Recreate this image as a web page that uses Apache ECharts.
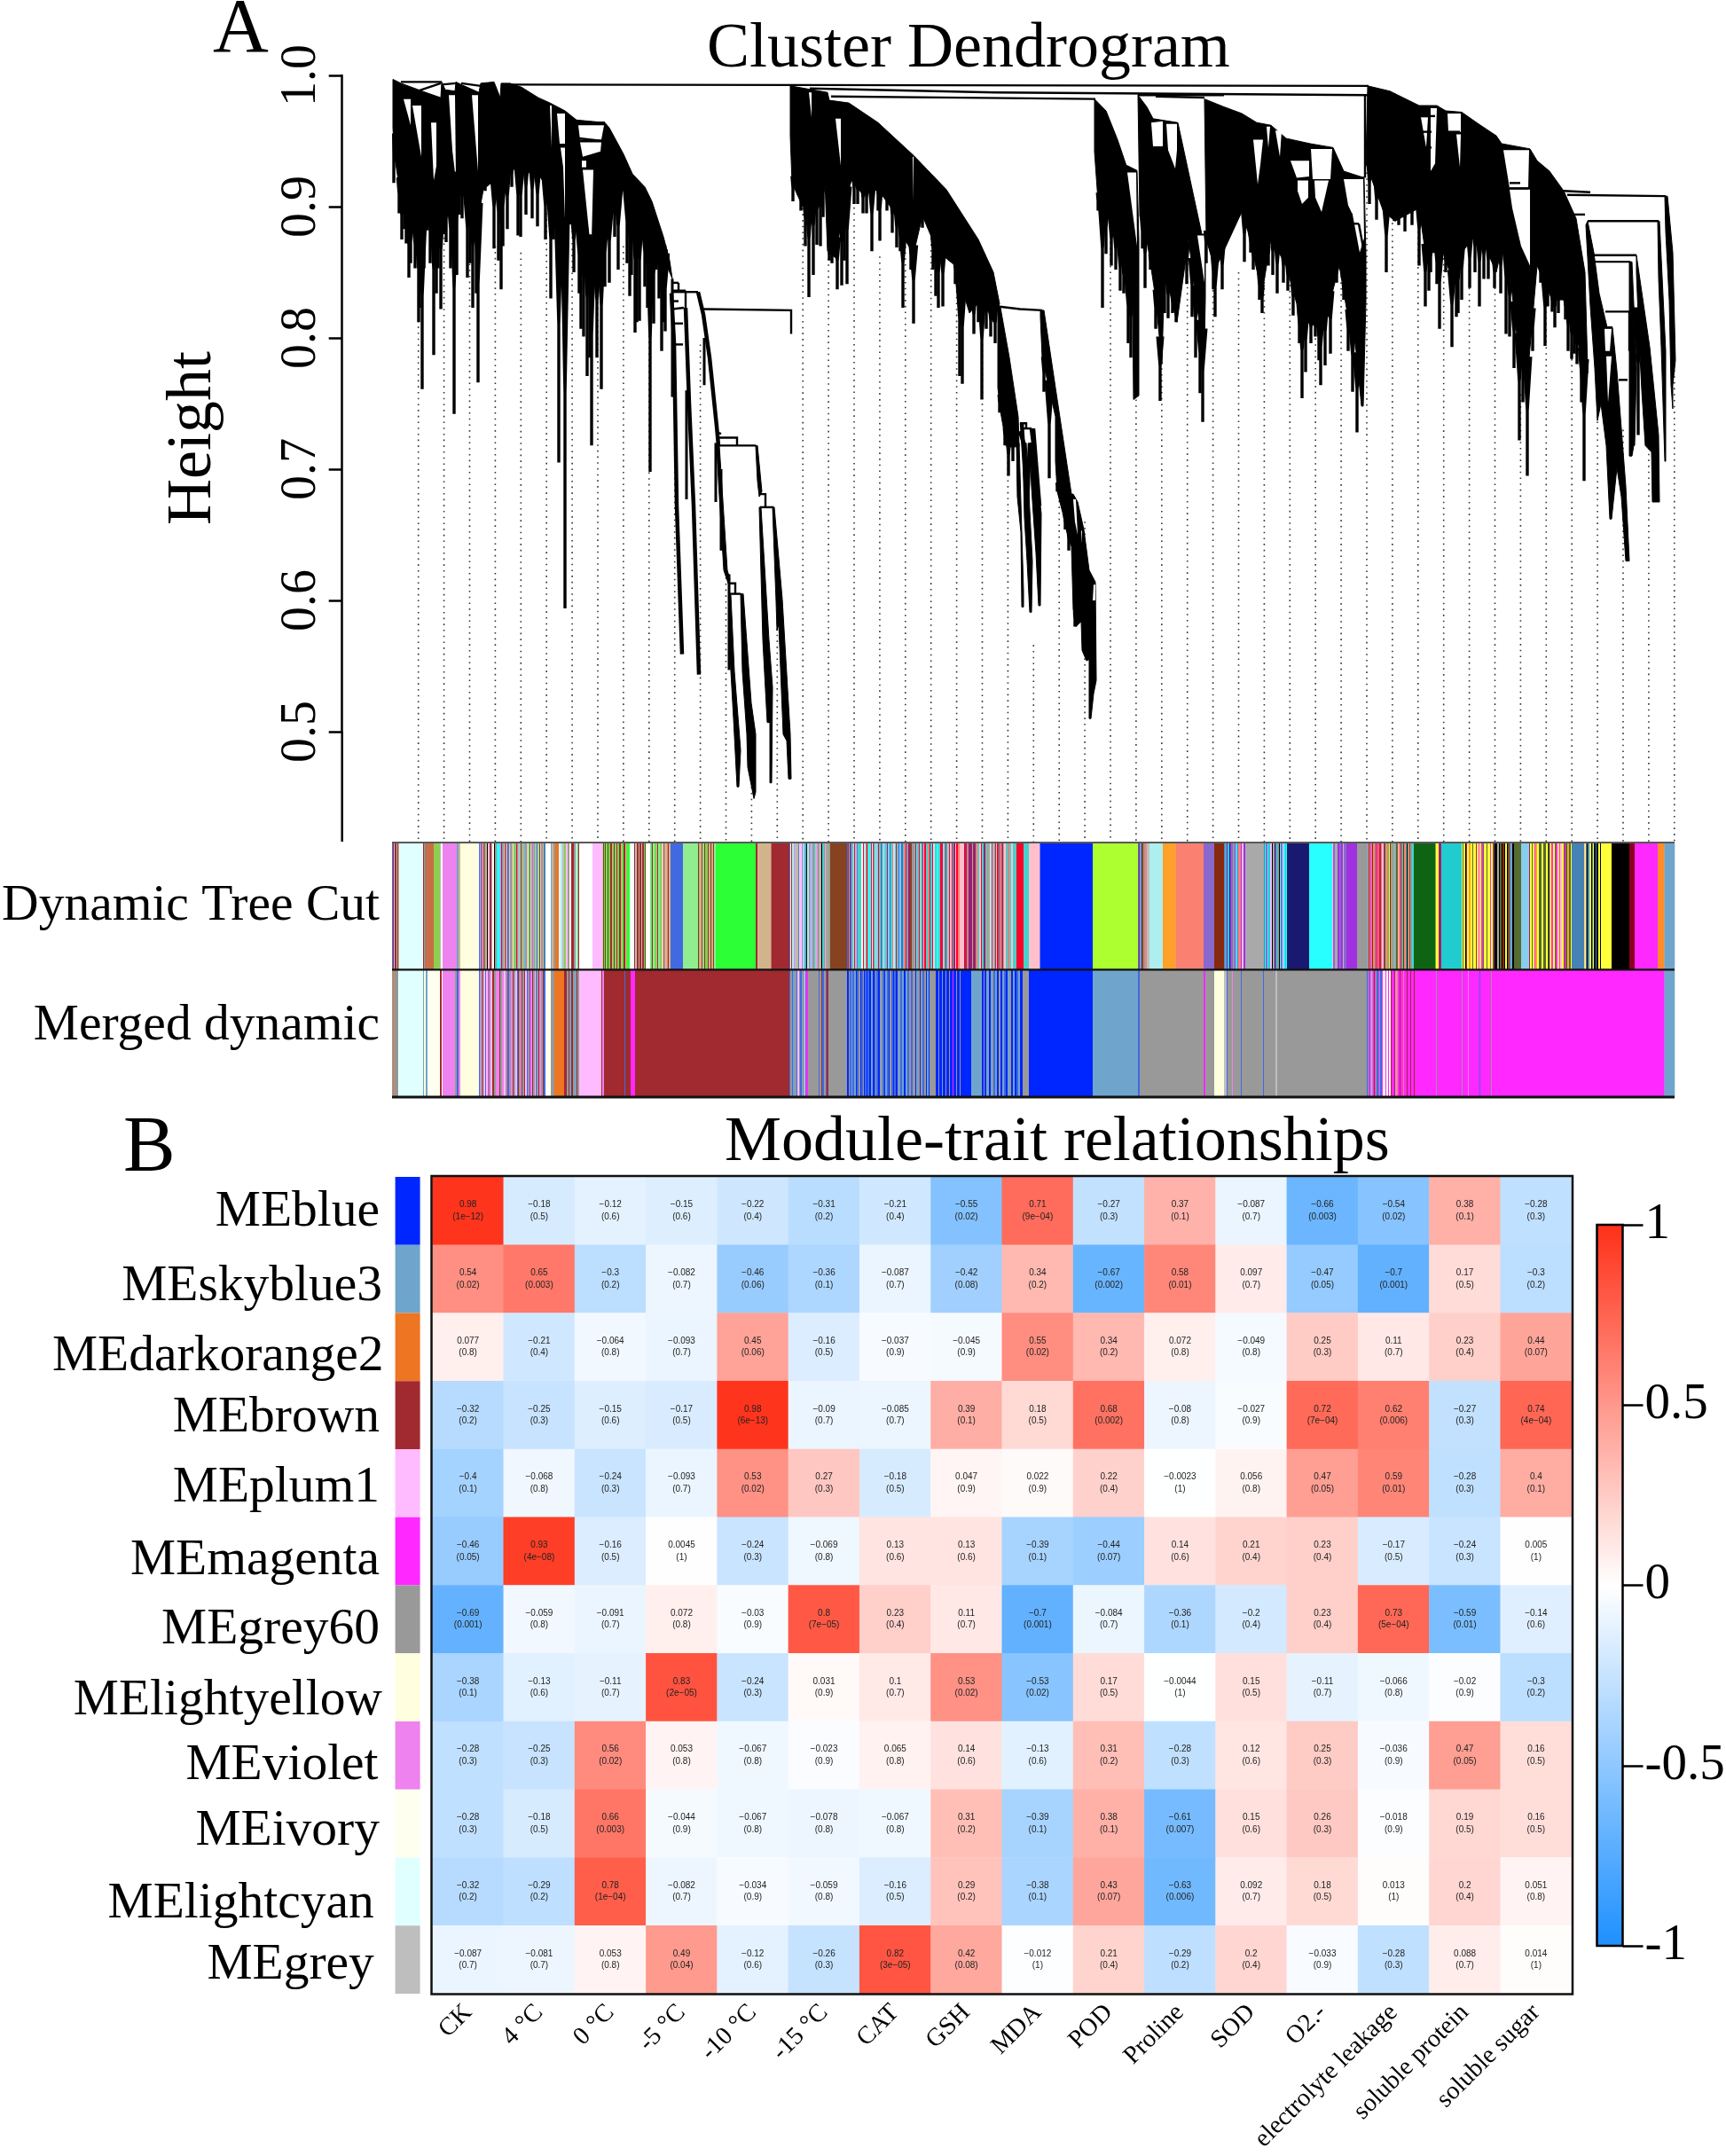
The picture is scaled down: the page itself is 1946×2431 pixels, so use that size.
<!DOCTYPE html>
<html><head><meta charset="utf-8">
<style>html,body{margin:0;padding:0;background:#fff}#c{width:1946px;height:2431px}</style>
<script src="https://cdn.jsdelivr.net/npm/echarts@6/dist/echarts.min.js"></script>
</head><body><div id="c"></div>
<script>
// ---------- dendrogram: [leaf rank, height] outlines
const massA=[[1,.997],[10,.994],[38,.987],[55,.983],[56,.995],[60,.989],[71,.988],[72,.995],[78,.993],[98,.987],[100,.994],[115,.995],[122,.983],[123,.994],[133,.994],[146,.991],[165,.983],[178,.979],[195,.973],[208,.966],[240,.964],[245,.960],[261,.940],[271,.925],[285,.915],[293,.904],[306,.877],[313,.859],[316,.845],[316,.845],[313,.850],[298,.873],[288,.875],[273,.900],[261,.913],[245,.893],[238,.875],[231,.857],[218,.875],[205,.888],[191,.884],[181,.904],[168,.922],[151,.927],[138,.929],[128,.920],[115,.920],[103,.913],[98,.895],[78,.915],[73,.920],[68,.902],[58,.897],[38,.900],[33,.879],[21,.880],[11,.902],[3,.938],[1,.960]];
const massB=[[449,.992],[491,.987],[493,.981],[515,.979],[548,.964],[588,.939],[625,.913],[661,.875],[678,.850],[685,.826],[683,.823],[678,.812],[665,.830],[651,.819],[635,.855],[615,.866],[598,.893],[588,.864],[578,.875],[565,.897],[548,.913],[531,.909],[518,.920],[508,.897],[500,.861],[491,.866],[488,.920],[475,.909],[463,.900],[451,.918],[449,.954]];
const massB2=[[683,.823],[686,.823],[696,.785],[706,.740],[707,.717],[693,.717],[686,.744],[683,.762]];
const massB3=[[731,.821],[735,.821],[748,.762],[766,.681],[768,.681],[773,.675],[780,.654],[786,.623],[793,.614],[794,.539],[791,.529],[788,.510],[786,.510],[786,.555],[783,.554],[778,.562],[777,.584],[771,.580],[768,.593],[766,.641],[760,.654],[756,.667],[750,.683],[748,.706],[748,.740],[733,.785],[731,.816]];
const massC=[[792,.982],[805,.973],[818,.951],[828,.931],[840,.927],[842,.875],[842,.756],[836,.753],[835,.830],[820,.864],[810,.888],[796,.904],[792,.942]];
const massD=[[841,.985],[851,.976],[858,.967],[886,.964],[900,.920],[913,.879],[917,.879],[917,.830],[916,.796],[911,.807],[898,.875],[885,.812],[871,.852],[868,.780],[861,.830],[851,.875],[843,.893]];
const massE=[[916,.982],[938,.976],[958,.971],[975,.964],[991,.962],[1008,.952],[1035,.948],[1061,.945],[1073,.927],[1096,.922],[1098,.863],[1098,.829],[1095,.748],[1093,.748],[1085,.803],[1081,.803],[1068,.855],[1058,.829],[1045,.808],[1025,.814],[1008,.855],[991,.876],[981,.834],[965,.881],[958,.896],[928,.852],[918,.875]];
const massF=[[1100,.992],[1125,.988],[1158,.977],[1178,.977],[1188,.973],[1206,.972],[1225,.963],[1245,.954],[1251,.948],[1283,.944],[1291,.935],[1305,.927],[1321,.912],[1335,.891],[1345,.850],[1348,.777],[1344,.777],[1335,.803],[1321,.829],[1308,.829],[1291,.855],[1281,.777],[1268,.803],[1255,.881],[1245,.850],[1225,.881],[1206,.865],[1195,.845],[1185,.865],[1165,.865],[1158,.899],[1131,.889],[1118,.896],[1105,.920],[1098,.933]];
const massG=[[1348,.889],[1355,.865],[1361,.834],[1370,.808],[1376,.808],[1381,.775],[1391,.687],[1395,.630],[1391,.630],[1386,.679],[1381,.701],[1375,.662],[1373,.662],[1369,.718],[1363,.750],[1359,.737],[1356,.777],[1351,.824],[1346,.886]];
const massH=[[1403,.863],[1418,.793],[1428,.726],[1429,.675],[1427,.675],[1421,.675],[1420,.713],[1413,.718],[1409,.76],[1406,.80],[1403,.85]];
const massH2=[[1395,.858],[1398,.858],[1403,.777],[1401,.718],[1400,.718],[1398,.710],[1395,.710],[1395,.790]];
const massI=[[1435,.908],[1438,.908],[1444,.865],[1447,.783],[1444,.764],[1444,.746],[1442,.764],[1440,.829],[1436,.881]];
const massI2=[[1427,.889],[1429,.889],[1436,.790],[1436,.706],[1435,.706],[1431,.793],[1428,.845]];
const bandLTop=[[366,.718],[369,.718],[378,.623],[381,.616],[379,.613],[374,.623],[368,.691]];
const bandLL=[[380,.604],[382,.604],[386,.546],[393,.486],[391,.458],[389,.458],[385,.510],[380,.570]];
const bandLR=[[393,.605],[396,.605],[405,.522],[410,.498],[410,.454],[408,.449],[401,.473],[400,.498],[395,.546]];
const bandRTop=[[410,.718],[412,.718],[417,.683],[414,.679],[412,.691]];
const bandRL=[[414,.671],[416,.671],[425,.570],[429,.534],[428,.461],[426,.461],[426,.507],[423,.507],[418,.570]];
const bandRR=[[429,.671],[431,.671],[440,.601],[449,.498],[450,.464],[447,.464],[445,.493],[441,.498],[436,.582],[434,.577],[433,.599]];
const tailA=[[704,.72],[707,.72],[712,.607],[712,.595],[710,.595],[709,.652],[705,.679]];
const tailB=[[711,.72],[715,.72],[722,.630],[721,.591],[719,.591],[716,.630],[713,.663]];
const tailC=[[719,.72],[723,.72],[732,.666],[731,.596],[729,.596],[726,.636],[721,.686]];
const treeMasses=[massA,massB,massB2,massB3,massC,massD,massE,massF,massG,massH,massH2,massI,massI2,bandLTop,bandLL,bandLR,bandRTop,bandRL,bandRR,tailA,tailB,tailC];
// white openings between branches
const treeGaps=[
[[13,.982],[21,.982],[21,.962]],[[23,.977],[33,.977],[33,.938]],[[44,.964],[50,.964],[50,.931],[47,.920]],[[64,.985],[71,.985],[72,.920],[68,.943]],[[90,.985],[97,.985],[97,.927]],
[[178,.977],[180,.977],[180,.945]],[[186,.971],[195,.971],[195,.948],[189,.948]],[[190,.945],[195,.945],[195,.890],[193,.930]],
[[210,.962],[239,.962],[236,.951],[212,.951]],[[212,.949],[236,.949],[235,.942],[215,.938]],[[214,.935],[219,.935],[219,.930],[214,.930]],[[215,.928],[227,.928],[225,.875],[223,.875]],
[[470,.987],[473,.987],[473,.968]],[[500,.967],[506,.967],[506,.931]],[[587,.938],[588,.938],[588,.904]],
[[829,.926],[839,.926],[840,.870]],[[856,.964],[869,.965],[869,.946],[858,.946]],[[873,.963],[885,.963],[885,.943],[883,.929],[875,.943]],[[908,.878],[916,.878],[916,.842]],
[[971,.951],[982,.951],[979,.932],[976,.917]],[[986,.961],[990,.961],[988,.945]],[[996,.958],[1003,.958],[1001,.938]],[[1013,.935],[1034,.935],[1034,.923],[1020,.922]],[[1021,.920],[1033,.920],[1033,.907],[1026,.902],[1021,.912]],[[1036,.944],[1060,.944],[1058,.921],[1038,.921]],[[1040,.920],[1056,.920],[1048,.896],[1041,.907]],[[1073,.921],[1095,.921],[1096,.876],[1091,.865],[1083,.894],[1078,.901]],
[[1171,.975],[1178,.975],[1176,.933],[1171,.927]],[[1160,.968],[1168,.968],[1166,.945]],[[1190,.971],[1205,.971],[1205,.957],[1191,.957]],[[1200,.955],[1205,.955],[1204,.930]],[[1253,.943],[1282,.943],[1281,.914],[1260,.914]],[[1260,.913],[1283,.913],[1283,.855],[1273,.870],[1263,.899]],
[[1367,.807],[1375,.807],[1373,.790],[1368,.790]],[[1369,.786],[1375,.786],[1371,.751]],
[[768,.677],[771,.677],[773,.650],[770,.660]],[[777,.653],[778,.653],[778,.643]],[[791,.612],[793,.612],[793,.600],[790,.600]]];
// leaf tips: [rank, lowest height]
const treeTips=[[2,.918],[8,.895],[14,.883],[19,.846],[21,.857],[30,.812],[34,.761],[40,.882],[47,.787],[55,.822],[59,.879],[70,.742],[76,.894],[79,.891],[85,.846],[91,.823],[97,.766],[105,.912],[115,.868],[120,.859],[123,.837],[130,.883],[135,.915],[142,.878],[145,.877],[151,.894],[158,.891],[164,.885],[173,.875],[179,.830],[188,.705],[195,.594],[205,.850],[216,.801],[220,.771],[225,.718],[236,.761],[240,.839],[245,.842],[251,.877],[265,.857],[268,.832],[274,.804],[279,.813],[291,.698],[295,.811],[304,.790],[308,.805],
[452,.904],[461,.897],[470,.831],[479,.871],[486,.892],[493,.859],[502,.837],[507,.840],[513,.841],[521,.902],[535,.895],[541,.866],[550,.874],[564,.880],[569,.869],[576,.823],[588,.811],[593,.887],[605,.884],[613,.832],[616,.823],[621,.824],[630,.875],[640,.771],[643,.765],[656,.803],[665,.753],[675,.801],[680,.796],[685,.743],[691,.718],[695,.695],[700,.706],
[735,.759],[741,.693],[751,.685],[750,.683],[759,.654],[763,.638],[770,.580],
[796,.897],[801,.823],[811,.855],[821,.836],[828,.864],[846,.868],[849,.838],[856,.868],[866,.752],[875,.815],[880,.819],[884,.812],[891,.852],[902,.816],[911,.758],[914,.736],
[918,.857],[926,.837],[928,.816],[936,.837],[961,.858],[971,.852],[981,.819],[993,.848],[998,.834],[1010,.836],[1016,.817],[1026,.754],[1030,.774],[1041,.801],[1047,.764],[1052,.779],[1058,.788],[1065,.842],[1083,.759],[1088,.728],
[1102,.902],[1110,.890],[1121,.850],[1130,.889],[1135,.886],[1142,.881],[1150,.886],[1165,.824],[1169,.836],[1178,.841],[1181,.807],[1195,.793],[1202,.819],[1215,.838],[1226,.824],[1231,.845],[1243,.838],[1256,.803],[1260,.801],[1271,.722],[1280,.695],[1300,.794],[1308,.820],[1315,.819],[1323,.814],[1330,.784],[1336,.780],[1344,.691],[1347,.773],
[1368,.741],[1405,.726]];
const treeTipsDense=[[11,.875],[16,.872],[26,.853],[31,.823],[36,.853],[43,.857],[50,.834],[52,.853],[61,.873],[66,.853],[73,.848],[88,.857],[95,.834],[125,.870],[182,.875],[195,.796],[211,.834],[213,.807],[223,.785],[231,.785],[255,.852],[270,.848],[276,.812],[285,.839],[288,.823],[298,.852],[301,.83],[306,.812],
[458,.909],[466,.87],[475,.848],[483,.87],[496,.857],[510,.859],[525,.902],[531,.895],[548,.897],[558,.897],[573,.866],[585,.852],[598,.884],[610,.852],[625,.864],[635,.841],[648,.83],[661,.812],[670,.807],
[805,.864],[816,.852],[825,.834],[830,.796],[833,.785],[855,.852],[861,.807],[871,.819],[886,.852],[896,.841],[906,.785],
[968,.865],[978,.829],[988,.855],[1005,.842],[1015,.842],[1023,.796],[1036,.796],[1045,.783],[1055,.816],[1073,.829],[1078,.79],[1091,.777],
[1158,.855],[1171,.85],[1188,.85],[1200,.816],[1206,.829],[1221,.85],[1236,.845],[1250,.834],[1265,.777],[1275,.751],[1286,.79],[1295,.842],[1303,.824],[1311,.808],[1320,.829],[1326,.79],[1333,.788],[1341,.751]];
const treeTipsFree=[[316,.845,.755],[352,.80,.764],[332,.76,.677],[365,.72,.675],[371,.70,.638],[380,.62,.547]];
// thick trunks
const treeTrunks=[[[315,.834],[318,.796],[321,.672],[327,.559]],[[331,.823],[335,.75],[340,.672],[346,.5435]],[[345,.835],[351,.818],[358,.785],[366,.733],[368,.718]],[[708,.729],[712,.72]],[[721,.731],[723,.72]],[[710,.735],[716,.672],[719,.72]],[[723,.731],[730,.672]]];
// connecting brackets
const treeBrackets=[[[133,.993],[1101,.992]],[[471,.990],[680,.987],[1100,.985]],[[495,.984],[641,.983],[793,.982]],[[841,.985],[938,.985]],[[861,.984],[916,.983]],[[1097,.985],[1097,.922]],
[[20,.986],[55,.994]],[[10,.995],[56,.995]],[[56,.993],[72,.994]],[[78,.994],[100,.992]],[[208,.964],[240,.964]],[[211,.952],[237,.950]],
[[316,.842],[323,.842]],[[316,.836],[331,.836]],[[316,.835],[345,.835]],[[316,.828],[323,.828]],[[316,.822],[329,.823]],[[318,.811],[328,.811]],[[319,.795],[328,.795]],[[323,.842],[323,.836]],[[331,.836],[331,.823]],
[[351,.822],[450,.821],[450,.803]],[[367,.728],[371,.727]],[[367,.724],[389,.724],[389,.718]],[[367,.718],[410,.718]],
[[380,.613],[387,.613],[387,.605]],[[380,.605],[393,.605]],[[415,.681],[421,.681],[421,.671]],[[415,.671],[430,.671]],
[[683,.824],[708,.822],[733,.821]],[[708,.735],[715,.735],[715,.731]],[[710,.731],[721,.731]],
[[828,.931],[840,.927]],[[1073,.922],[1096,.922]],[[1078,.894],[1083,.894]],[[1079,.887],[1090,.887]],[[1090,.887],[1096,.865]],
[[1160,.969],[1176,.969]],[[1162,.957],[1172,.957]],[[1162,.945],[1172,.945]],[[1191,.957],[1204,.957]],[[1193,.947],[1200,.947]],
[[1321,.912],[1351,.911]],[[1325,.909],[1436,.908]],[[1333,.894],[1345,.894]],[[1348,.889],[1428,.889]],[[1355,.863],[1403,.863]],[[1356,.858],[1396,.858]],[[1368,.820],[1395,.820],[1395,.790]],[[1366,.808],[1376,.808]],[[1383,.768],[1393,.768]],[[1260,.914],[1281,.914]],[[1260,.918],[1272,.918]]];
const guideRanks=[29.7,58.6,87.5,116.4,145.3,174.2,203.1,232,260.9,289.8,318.7,347.6,376.5,405.4,434.3,463.2,492.1,521,549.9,578.8,607.7,636.6,665.5,694.4,723.3,752.2,781.1,810,838.9,867.8,896.7,925.6,954.5,983.4,1012.3,1041.2,1070.1,1099,1127.9,1156.8,1185.7,1214.6,1243.5,1272.4,1301.3,1330.2,1359.1,1388,1416.9,1445.8];
const guideTops=[.881,.881,.870,.870,.865,.895,.895,.832,.870,.838,.802,.795,.631,.476,.592,.917,.865,.904,.862,.915,.894,.872,.845,.755,.566,.685,.66,.873,.83,.795,.893,.85,.85,.865,.854,.854,.865,.926,.951,.940,.897,.915,.870,.757,.888,.802,.786,.730,.757,.798];
const guideBottom=.4162;

// ---------- module colour strips: [end rank, colour key]
const palette={lc:'#E0FFFF',ly:'#FFFFE0',iv:'#FFFFF0',vi:'#EE82EE',pl:'#FFBBFF',wh:'#FFFFFF',br:'#A02A2F',bl:'#0026FF',rb:'#4169E1',ma:'#FF28FF',gy:'#999999',lg:'#BEBEBE',sk:'#6FA5CC',or:'#EE7521',si:'#C86E45',ol:'#8FCF50',cy:'#28FFFF',tq:'#48D1CC',re:'#FF0028',pk:'#FFC0CB',gn:'#2DFF37',lt:'#90EE90',ta:'#D2B48C',sb:'#87421F',gr:'#ADFF2F',pt:'#AFEEEE',oa:'#FFA028',sa:'#FA8072',mp:'#8968CD',b4:'#85290F',dg:'#A9A9A9',mb:'#191970',pu:'#A030E0',dk:'#0F6414',dt:'#20CCD0',ye:'#FFFF3C',k:'#000000',do:'#556B2F',sy:'#87CEEB',st:'#4682B4',dr:'#8B0020',ao:'#FF8C28',mr:'#9B1F70'};
const treeCut=[[1,'rb'],[2,'br'],[3,'lg'],[5,'br'],[6,'lg'],[7,'br'],[8,'ta'],[35,'lc'],[36,'br'],[37,'sk'],[40,'si'],[47,'si'],[54,'ol'],[55,'lg'],[57,'wh'],[73,'vi'],[75,'sk'],[77,'ta'],[98,'ly'],[99,'rb'],[100,'pl'],[101,'mb'],[102,'ly'],[103,'br'],[104,'vi'],[105,'do'],[107,'ta'],[108,'k'],[110,'pl'],[112,'sb'],[113,'vi'],[115,'ly'],[116,'k'],[118,'gy'],[122,'cy'],[123,'vi'],[124,'br'],[126,'gy'],[127,'pl'],[128,'br'],[129,'ol'],[130,'vi'],[132,'st'],[133,'pk'],[135,'gy'],[136,'vi'],[137,'ye'],[138,'tq'],[140,'ol'],[141,'re'],[142,'gy'],[143,'ta'],[145,'sy'],[146,'br'],[148,'ol'],[149,'vi'],[150,'tq'],[152,'gy'],[153,'pk'],[155,'lt'],[156,'br'],[157,'ly'],[159,'gy'],[160,'vi'],[161,'dt'],[163,'ta'],[164,'rb'],[166,'lt'],[167,'br'],[168,'pk'],[170,'gy'],[171,'ta'],[173,'st'],[179,'wh'],[180,'sk'],[182,'ta'],[184,'gy'],[188,'or'],[190,'lc'],[192,'pt'],[194,'lg'],[196,'ol'],[198,'pl'],[200,'gy'],[202,'ly'],[205,'br'],[207,'gy'],[209,'pt'],[210,'ol'],[211,'br'],[226,'wh'],[237,'pl'],[238,'lt'],[239,'br'],[240,'gn'],[241,'br'],[242,'ta'],[243,'gn'],[244,'br'],[245,'ol'],[246,'gn'],[248,'br'],[249,'ta'],[250,'ol'],[251,'br'],[252,'gn'],[253,'ta'],[254,'br'],[255,'ol'],[256,'gn'],[258,'br'],[259,'ta'],[260,'ol'],[261,'gn'],[263,'br'],[264,'ta'],[265,'gn'],[266,'ol'],[268,'gn'],[273,'wh'],[274,'br'],[276,'lg'],[278,'br'],[279,'ta'],[281,'br'],[282,'lg'],[284,'br'],[285,'gn'],[286,'br'],[291,'wh'],[292,'lg'],[293,'gn'],[294,'br'],[296,'lt'],[297,'ol'],[298,'gn'],[299,'ta'],[300,'br'],[302,'lt'],[303,'gn'],[305,'ta'],[306,'ly'],[307,'br'],[308,'lg'],[310,'ta'],[311,'sa'],[312,'br'],[314,'ta'],[328,'rb'],[345,'lt'],[346,'br'],[347,'ol'],[349,'ta'],[350,'br'],[351,'lt'],[352,'ta'],[353,'br'],[354,'gn'],[356,'ol'],[357,'br'],[359,'ta'],[360,'br'],[361,'ol'],[362,'ta'],[363,'br'],[365,'lt'],[410,'gn'],[412,'br'],[427.5,'ta'],[448,'br'],[449,'rb'],[450,'ly'],[451,'br'],[453,'pt'],[454,'vi'],[455,'lg'],[456,'sy'],[458,'ta'],[459,'mp'],[460,'pt'],[462,'pl'],[463,'vi'],[464,'tq'],[465,'lc'],[466,'st'],[467,'tq'],[468,'k'],[470,'pt'],[471,'gy'],[472,'vi'],[474,'sy'],[476,'gy'],[477,'tq'],[479,'lg'],[480,'vi'],[482,'gy'],[483,'pk'],[484,'gy'],[485,'k'],[487,'tq'],[488,'gy'],[489,'lg'],[490,'vi'],[491,'gy'],[492,'ol'],[494,'gy'],[513,'sb'],[514,'rb'],[515,'re'],[516,'tq'],[517,'mr'],[518,'rb'],[520,'tq'],[521,'pk'],[522,'re'],[524,'sy'],[525,'mp'],[529,'tq'],[531,'lc'],[532,'re'],[534,'pt'],[535,'sa'],[536,'re'],[537,'tq'],[540,'cy'],[541,'re'],[542,'lc'],[543,'re'],[545,'tq'],[546,'pk'],[548,'sy'],[549,'re'],[551,'tq'],[553,'st'],[554,'pt'],[556,'sy'],[558,'tq'],[559,'mr'],[561,'sy'],[562,'rb'],[564,'tq'],[565,'sa'],[567,'pt'],[568,'sy'],[569,'re'],[571,'tq'],[572,'rb'],[574,'sy'],[576,'rb'],[577,'tq'],[579,'sa'],[580,'mr'],[582,'gy'],[584,'mr'],[586,'sb'],[589,'gy'],[590,'tq'],[591,'re'],[592,'sy'],[594,'tq'],[595,'re'],[596,'pk'],[598,'tq'],[599,'mr'],[600,'pk'],[602,'re'],[604,'tq'],[606,'sa'],[607,'mr'],[609,'tq'],[610,'re'],[612,'pt'],[614,'tq'],[616,'cy'],[618,'tq'],[620,'re'],[621,'mr'],[622,'pk'],[624,'tq'],[625,'re'],[626,'tq'],[628,'sy'],[629,'re'],[631,'pk'],[632,'re'],[633,'tq'],[635,'mr'],[636,'pk'],[638,'re'],[640,'sa'],[645,'pk'],[646,'mr'],[648,'re'],[650,'gy'],[654,'mr'],[655,'tq'],[656,'re'],[658,'mr'],[660,'sa'],[662,'tq'],[664,'pk'],[665,'re'],[667,'tq'],[669,'mr'],[671,'tq'],[673,'sa'],[674,'tq'],[676,'pt'],[677,'re'],[678,'pk'],[680,'tq'],[681,'re'],[682,'pk'],[684,'re'],[685,'tq'],[686,'re'],[687,'pt'],[689,'re'],[690,'tq'],[692,'pk'],[694,'tq'],[696,'sa'],[698,'tq'],[700,'pk'],[704,'tq'],[712,'re'],[718,'tq'],[730.5,'pk'],[790,'bl'],[841,'gr'],[842,'rb'],[843,'mr'],[844,'tq'],[845,'mp'],[847,'sb'],[849,'gy'],[851,'sa'],[854,'lg'],[869,'pt'],[883.5,'oa'],[915,'sa'],[927,'mp'],[938,'b4'],[939,'mp'],[940,'dt'],[941,'mp'],[943,'st'],[944,'cy'],[945,'mb'],[946,'pu'],[948,'mp'],[950,'gy'],[951,'pu'],[953,'cy'],[954,'mp'],[957,'sa'],[958,'pu'],[960,'pl'],[962,'pu'],[983,'dg'],[984,'st'],[985,'cy'],[987,'mp'],[988,'cy'],[990,'dt'],[992,'pl'],[993,'k'],[995,'dg'],[996,'mb'],[997,'mp'],[998,'dt'],[1000,'gy'],[1001,'k'],[1002,'cy'],[1004,'mp'],[1005,'pl'],[1007,'cy'],[1008,'dt'],[1009,'cy'],[1034,'mb'],[1060,'cy'],[1061,'pl'],[1063,'mp'],[1066,'dg'],[1068,'pu'],[1070,'mp'],[1072,'pu'],[1073,'lg'],[1076,'mp'],[1088,'pu'],[1099,'gy'],[1100,'sk'],[1101,'sa'],[1102,'br'],[1103,'gy'],[1104,'ma'],[1105,'sa'],[1106,'b4'],[1108,'sa'],[1109,'gy'],[1110,'re'],[1111,'sa'],[1112,'pu'],[1113,'sa'],[1115,'re'],[1116,'gy'],[1118,'pk'],[1119,'mr'],[1120,'do'],[1121,'sa'],[1122,'oa'],[1124,'gy'],[1125,'ye'],[1126,'dk'],[1128,'sa'],[1129,'gy'],[1131,'tq'],[1132,'sa'],[1134,'do'],[1135,'pk'],[1137,'sa'],[1138,'mr'],[1140,'gy'],[1141,'dk'],[1143,'sa'],[1144,'dt'],[1145,'k'],[1147,'sa'],[1148,'do'],[1150,'gy'],[1152,'tq'],[1176.6,'dk'],[1180,'ye'],[1183,'mr'],[1206,'dt'],[1207,'ye'],[1208,'do'],[1210,'ye'],[1211,'k'],[1212,'mr'],[1214,'ye'],[1216,'oa'],[1218,'ye'],[1219,'do'],[1222,'ye'],[1223,'mr'],[1225,'ye'],[1226,'ma'],[1228,'ye'],[1230,'ma'],[1231,'do'],[1234,'ye'],[1235,'do'],[1238,'ye'],[1239,'ma'],[1241,'ye'],[1242,'do'],[1243,'mr'],[1246,'k'],[1248,'dg'],[1249,'k'],[1251,'do'],[1252,'k'],[1254,'b4'],[1255,'k'],[1257,'ye'],[1258,'k'],[1260,'sb'],[1261,'st'],[1263,'sk'],[1265,'k'],[1273,'do'],[1282,'sy'],[1283,'mr'],[1285,'ye'],[1286,'do'],[1288,'ye'],[1289,'ma'],[1291,'oa'],[1293,'ye'],[1296,'do'],[1298,'ye'],[1301,'do'],[1303,'ye'],[1304,'do'],[1305,'k'],[1307,'ye'],[1309,'ma'],[1311,'ye'],[1312,'do'],[1314,'ma'],[1316,'ye'],[1317,'ma'],[1319,'pk'],[1321,'ye'],[1322,'mr'],[1323,'ma'],[1325,'do'],[1327,'oa'],[1329,'do'],[1330,'ye'],[1344,'st'],[1345,'pk'],[1346,'ye'],[1347,'st'],[1348,'k'],[1350,'st'],[1352,'ye'],[1353,'k'],[1354,'st'],[1355,'ye'],[1357,'k'],[1358,'st'],[1360,'k'],[1362,'ye'],[1363,'k'],[1375,'ye'],[1395,'k'],[1401,'dr'],[1427,'ma'],[1434.5,'ao'],[1446,'sk']];
const merged=[[1,'sk'],[2,'or'],[4,'gy'],[5,'or'],[7,'sk'],[8,'ly'],[35,'lc'],[36,'sk'],[38,'ly'],[40,'sk'],[54,'iv'],[56,'br'],[57,'wh'],[71,'vi'],[73,'gy'],[75,'rb'],[77,'vi'],[98,'ly'],[99,'rb'],[100,'vi'],[102,'gy'],[103,'br'],[105,'pl'],[106,'rb'],[108,'pl'],[109,'ma'],[111,'gy'],[113,'pl'],[115,'br'],[117,'gy'],[121,'vi'],[122,'br'],[124,'gy'],[126,'vi'],[128,'pl'],[130,'gy'],[131,'pu'],[132,'rb'],[134,'gy'],[136,'vi'],[137,'br'],[139,'gy'],[141,'pl'],[142,'rb'],[143,'br'],[145,'gy'],[146,'vi'],[147,'br'],[149,'gy'],[150,'br'],[152,'pl'],[153,'rb'],[155,'gy'],[156,'pu'],[158,'vi'],[159,'br'],[161,'gy'],[162,'pl'],[163,'rb'],[165,'gy'],[166,'br'],[168,'vi'],[170,'gy'],[171,'br'],[173,'rb'],[179,'iv'],[183,'gy'],[194,'or'],[197,'br'],[199,'gy'],[200,'br'],[202,'sk'],[204,'br'],[206,'gy'],[208,'sk'],[209,'br'],[211,'gy'],[236,'pl'],[237,'br'],[239,'vi'],[262,'br'],[263,'rb'],[269,'br'],[274,'ma'],[448,'br'],[449,'rb'],[451,'gy'],[452,'rb'],[454,'sk'],[456,'gy'],[457,'rb'],[459,'pl'],[460,'gy'],[462,'rb'],[463,'sk'],[465,'gy'],[466,'pl'],[467,'rb'],[469,'ma'],[481,'gy'],[482,'rb'],[484,'gy'],[485,'br'],[487,'rb'],[489,'gy'],[490,'rb'],[492,'br'],[513,'gy'],[515,'bl'],[516,'gy'],[518,'rb'],[519,'sk'],[521,'rb'],[523,'sk'],[524,'bl'],[526,'rb'],[528,'gy'],[529,'bl'],[531,'rb'],[532,'gy'],[533,'bl'],[535,'rb'],[536,'bl'],[538,'rb'],[540,'bl'],[542,'sk'],[544,'bl'],[545,'rb'],[546,'gy'],[548,'rb'],[550,'bl'],[551,'sk'],[553,'gy'],[555,'rb'],[556,'bl'],[558,'sk'],[560,'rb'],[561,'bl'],[563,'gy'],[565,'rb'],[566,'bl'],[568,'rb'],[570,'bl'],[571,'gy'],[573,'sk'],[575,'rb'],[577,'sk'],[579,'bl'],[581,'sk'],[583,'rb'],[585,'gy'],[587,'rb'],[590,'gy'],[591,'bl'],[593,'sk'],[595,'gy'],[596,'bl'],[598,'gy'],[600,'rb'],[602,'gy'],[603,'bl'],[605,'sk'],[606,'bl'],[613,'gy'],[616,'bl'],[617,'gy'],[620,'bl'],[621,'sk'],[624,'bl'],[625,'gy'],[628,'bl'],[629,'gy'],[632,'bl'],[633,'ma'],[636,'bl'],[637,'gy'],[640,'bl'],[641,'gy'],[653,'bl'],[665,'sk'],[667,'bl'],[668,'gy'],[670,'bl'],[672,'sk'],[673,'gy'],[675,'bl'],[677,'sk'],[678,'gy'],[680,'rb'],[682,'sk'],[684,'bl'],[686,'gy'],[688,'bl'],[690,'sk'],[692,'rb'],[694,'bl'],[696,'sk'],[698,'gy'],[700,'bl'],[702,'sk'],[704,'bl'],[706,'rb'],[708,'sk'],[711,'bl'],[718,'gy'],[790,'bl'],[841,'sk'],[843,'rb'],[915,'gy'],[917,'ma'],[927,'gy'],[938,'ly'],[941,'lg'],[942,'rb'],[947,'gy'],[948,'vi'],[957,'gy'],[958,'rb'],[982,'gy'],[983,'rb'],[996,'gy'],[998,'lg'],[1099,'gy'],[1100,'rb'],[1101,'gy'],[1102,'ma'],[1103,'rb'],[1105,'vi'],[1106,'gy'],[1107,'ma'],[1108,'br'],[1109,'ma'],[1110,'gy'],[1112,'rb'],[1113,'ma'],[1114,'sk'],[1116,'rb'],[1117,'ma'],[1119,'ly'],[1120,'wh'],[1121,'ma'],[1122,'iv'],[1123,'wh'],[1124,'ma'],[1126,'wh'],[1127,'br'],[1130,'ma'],[1131,'br'],[1133,'vi'],[1134,'sa'],[1136,'ma'],[1137,'br'],[1140,'ma'],[1141,'sa'],[1144,'ma'],[1145,'br'],[1148,'ma'],[1149,'br'],[1152,'ma'],[1153,'br'],[1177,'ma'],[1178,'gy'],[1206,'ma'],[1207,'gy'],[1213,'ma'],[1214,'vi'],[1226,'ma'],[1227,'rb'],[1239,'ma'],[1240,'gy'],[1434.5,'ma'],[1446,'sk']];

// ---------- module-trait table
const traits=['CK','4 °C','0 °C','-5 °C','-10 °C','-15 °C','CAT','GSH','MDA','POD','Proline','SOD','O2.-','electrolyte leakage','soluble protein','soluble sugar'];
const modules=['MEblue','MEskyblue3','MEdarkorange2','MEbrown','MEplum1','MEmagenta','MEgrey60','MElightyellow','MEviolet','MEivory','MElightcyan','MEgrey'];
const moduleColors=['#0026FF','#6FA5CC','#EE7521','#A02A2F','#FFBBFF','#FF28FF','#999999','#FFFFE0','#EE82EE','#FFFFF0','#E0FFFF','#BEBEBE'];
const corr=[
[.98,-.18,-.12,-.15,-.22,-.31,-.21,-.55,.71,-.27,.37,-.087,-.66,-.54,.38,-.28],
[.54,.65,-.3,-.082,-.46,-.36,-.087,-.42,.34,-.67,.58,.097,-.47,-.7,.17,-.3],
[.077,-.21,-.064,-.093,.45,-.16,-.037,-.045,.55,.34,.072,-.049,.25,.11,.23,.44],
[-.32,-.25,-.15,-.17,.98,-.09,-.085,.39,.18,.68,-.08,-.027,.72,.62,-.27,.74],
[-.4,-.068,-.24,-.093,.53,.27,-.18,.047,.022,.22,-.0023,.056,.47,.59,-.28,.4],
[-.46,.93,-.16,.0045,-.24,-.069,.13,.13,-.39,-.44,.14,.21,.23,-.17,-.24,.005],
[-.69,-.059,-.091,.072,-.03,.8,.23,.11,-.7,-.084,-.36,-.2,.23,.73,-.59,-.14],
[-.38,-.13,-.11,.83,-.24,.031,.1,.53,-.53,.17,-.0044,.15,-.11,-.066,-.02,-.3],
[-.28,-.25,.56,.053,-.067,-.023,.065,.14,-.13,.31,-.28,.12,.25,-.036,.47,.16],
[-.28,-.18,.66,-.044,-.067,-.078,-.067,.31,-.39,.38,-.61,.15,.26,-.018,.19,.16],
[-.32,-.29,.78,-.082,-.034,-.059,-.16,.29,-.38,.43,-.63,.092,.18,.013,.2,.051],
[-.087,-.081,.053,.49,-.12,-.26,.82,.42,-.012,.21,-.29,.2,-.033,-.28,.088,.014]];
const pvals=[
['1e-12','0.5','0.6','0.6','0.4','0.2','0.4','0.02','9e-04','0.3','0.1','0.7','0.003','0.02','0.1','0.3'],
['0.02','0.003','0.2','0.7','0.06','0.1','0.7','0.08','0.2','0.002','0.01','0.7','0.05','0.001','0.5','0.2'],
['0.8','0.4','0.8','0.7','0.06','0.5','0.9','0.9','0.02','0.2','0.8','0.8','0.3','0.7','0.4','0.07'],
['0.2','0.3','0.6','0.5','6e-13','0.7','0.7','0.1','0.5','0.002','0.8','0.9','7e-04','0.006','0.3','4e-04'],
['0.1','0.8','0.3','0.7','0.02','0.3','0.5','0.9','0.9','0.4','1','0.8','0.05','0.01','0.3','0.1'],
['0.05','4e-08','0.5','1','0.3','0.8','0.6','0.6','0.1','0.07','0.6','0.4','0.4','0.5','0.3','1'],
['0.001','0.8','0.7','0.8','0.9','7e-05','0.4','0.7','0.001','0.7','0.1','0.4','0.4','5e-04','0.01','0.6'],
['0.1','0.6','0.7','2e-05','0.3','0.9','0.7','0.02','0.02','0.5','1','0.5','0.7','0.8','0.9','0.2'],
['0.3','0.3','0.02','0.8','0.8','0.9','0.8','0.6','0.6','0.2','0.3','0.6','0.3','0.9','0.05','0.5'],
['0.3','0.5','0.003','0.9','0.8','0.8','0.8','0.2','0.1','0.1','0.007','0.6','0.3','0.9','0.5','0.5'],
['0.2','0.2','1e-04','0.7','0.9','0.8','0.5','0.2','0.1','0.07','0.006','0.7','0.5','1','0.4','0.8'],
['0.7','0.7','0.8','0.04','0.6','0.3','3e-05','0.08','1','0.4','0.2','0.4','0.9','0.3','0.7','1']];

// label nudges, px: [down, left] from the common anchor
const moduleLabelNudge=[[2,5.6],[9,2.6],[11,1],[3,5.6],[6,5.6],[11,5.6],[12,5.6],[15,2.6],[12,7],[9,5.6],[14,11.8],[6,11.8]];

// ---------- assembly
const SERIF='"Liberation Serif","Times New Roman",serif';
const heatData=[];
corr.forEach((row,y)=>row.forEach((v,x)=>{
  const t=(String(v)+'\n('+pvals[y][x]+')').replace(/-/g,'\u2212');
  heatData.push([x,y,v,t]);
}));
function strip(list){let s=0;return list.map(([e,k])=>{const d=[s,e];s=e;return d;});}
function bottomOf(r){
  let best=null;
  treeMasses.forEach(m=>m.forEach((p,i)=>{
    const q=m[(i+1)%m.length];
    if((p[0]-r)*(q[0]-r)<=0 && p[0]!==q[0]){
      const h=p[1]+(q[1]-p[1])*(r-p[0])/(q[0]-p[0]);
      if(best===null||h<best)best=h;
    }}));
  return best;
}
const treeShapes=[];
guideRanks.forEach((r,i)=>treeShapes.push({k:'guide',p:[[r,guideTops[i]],[r,guideBottom]]}));
treeMasses.forEach(m=>treeShapes.push({k:'mass',p:m}));
treeGaps.forEach(m=>treeShapes.push({k:'gap',p:m}));
treeTips.concat(treeTipsDense).forEach(([r,h])=>{const t=bottomOf(r);treeShapes.push({k:'tip',p:[[r,Math.max((t===null?h+.03:t+.006),h)],[r,h]]});});
treeTipsFree.forEach(([r,a,b])=>treeShapes.push({k:'thin',p:[[r,a],[r,b]]}));
treeTrunks.forEach(m=>treeShapes.push({k:'trunk',p:m}));
treeBrackets.forEach(m=>treeShapes.push({k:'bracket',p:m}));

const hiddenX=(g,max)=>({type:'value',gridIndex:g,min:0,max,show:false});
const hiddenY=(g)=>({type:'value',gridIndex:g,min:0,max:1,show:false});
function stripSeries(list,g,name){return {type:'custom',name,xAxisIndex:g,yAxisIndex:g,clip:false,silent:true,
  data:strip(list),encode:{x:[0,1]},
  renderItem:(p,api)=>{const a=api.coord([api.value(0),1]),b=api.coord([api.value(1),0]);
    return {type:'rect',shape:{x:a[0],y:a[1],width:b[0]-a[0]+.3,height:b[1]-a[1]},style:{fill:palette[list[p.dataIndex][1]]}};}};}
const RANK_MAX=1446;
const option={
  animation:false,backgroundColor:'#fff',
  title:[
    {text:'Cluster Dendrogram',left:797,top:20,padding:0,textStyle:{fontFamily:SERIF,fontSize:72,fontWeight:'normal',color:'#000'}},
    {text:'Module-trait relationships',left:817,top:1253,padding:0,textStyle:{fontFamily:SERIF,fontSize:72,fontWeight:'normal',color:'#000'}}
  ],
  grid:[
    {left:442,width:1446,top:85,height:740,outerBoundsMode:'none'},
    {left:442,width:1446,top:951,height:142,outerBoundsMode:'none'},
    {left:442,width:1446,top:1094,height:142,outerBoundsMode:'none'},
    {left:487.5,width:1284.5,top:1327,height:921,outerBoundsMode:'none'},
    {left:445.6,width:28,top:1327,height:921,outerBoundsMode:'none'},
    {left:1800.5,width:29,top:1381,height:813,outerBoundsMode:'none'}
  ],
  xAxis:[hiddenX(0,RANK_MAX),hiddenX(1,RANK_MAX),hiddenX(2,RANK_MAX),
    {type:'category',gridIndex:3,data:traits.slice(),axisLine:{show:false},axisTick:{show:false},
     axisLabel:{interval:0,rotate:45,margin:17,fontFamily:SERIF,fontSize:28.5,color:'#000'}},
    hiddenX(4,1),hiddenX(5,1)],
  yAxis:[
    {type:'value',gridIndex:0,min:.5,max:1,interval:.1,offset:56.3,position:'left',splitLine:{show:false},
     axisLine:{show:true,onZero:false,lineStyle:{color:'#000',width:2.5}},axisTick:{show:true,length:15,lineStyle:{color:'#000',width:2.5}},
     axisLabel:{rotate:90,margin:17,fontFamily:SERIF,fontSize:56,color:'#000',formatter:v=>v.toFixed(1)}},
    hiddenY(1),hiddenY(2),
    {type:'category',gridIndex:3,inverse:true,data:modules.slice(),show:false},
    {type:'category',gridIndex:4,inverse:true,data:modules.slice(),show:false},
    {type:'value',gridIndex:5,min:-1,max:1,interval:.5,position:'right',splitLine:{show:false},
     axisLine:{show:false,onZero:false},axisTick:{show:true,length:23,lineStyle:{color:'#000',width:2.5}},
     axisLabel:{margin:25,align:'left',fontFamily:SERIF,fontSize:57,color:'#000',formatter:v=>String(v)}}
  ],
  visualMap:{type:'continuous',seriesIndex:3,dimension:2,min:-1,max:1,calculable:false,hoverLink:false,
    left:1800.5,top:1381,itemWidth:29,itemHeight:813,padding:0,text:null,showLabel:false,
    inRange:{color:['#1E90FF','#FFFFFF','#FF3018']}},
  series:[
    {type:'custom',name:'Cluster Dendrogram',xAxisIndex:0,yAxisIndex:0,clip:false,silent:true,
     data:treeShapes.map((s,i)=>[i]),
     renderItem:(p,api)=>{const s=treeShapes[p.dataIndex];const pts=s.p.map(q=>api.coord(q));
       if(s.k==='mass')return {type:'polygon',shape:{points:pts},style:{fill:'#000',stroke:'#000',lineWidth:1}};
       if(s.k==='gap')return {type:'polygon',shape:{points:pts},style:{fill:'#fff'}};
       if(s.k==='tip'){const [a,b]=pts;const len=b[1]-a[1];const w=Math.min(5.5,1.7+len*.04);const wl=Math.min(w,Math.max(1.7,a[0]-442));const mid=a[1]+len*.45;
         return {type:'polygon',shape:{points:[[a[0]-wl,a[1]-1],[a[0]+w,a[1]-1],[a[0]+1.7,mid],[a[0]+1.7,b[1]],[a[0]-1.7,b[1]],[a[0]-1.7,mid]]},style:{fill:'#000'}};}
       const w={guide:1.6,thin:3,trunk:4.5,bracket:2.4}[s.k];
       return {type:'polyline',shape:{points:pts},style:{fill:null,stroke:s.k==='guide'?'#333':'#000',lineWidth:w,lineDash:s.k==='guide'?[1.6,5.1]:null}};}},
    stripSeries(treeCut,1,'Dynamic Tree Cut'),
    stripSeries(merged,2,'Merged dynamic'),
    {type:'heatmap',name:'Module-trait relationships',xAxisIndex:3,yAxisIndex:3,data:heatData,silent:true,
     label:{show:true,fontFamily:'"Liberation Sans",Arial,sans-serif',fontSize:10,lineHeight:13.3,color:'#222',formatter:p=>p.value[3]},
     emphasis:{disabled:true}},
    {type:'bar',name:'modules',xAxisIndex:4,yAxisIndex:4,barCategoryGap:'0%',silent:true,
     data:moduleColors.map((c,i)=>({value:[1,i],itemStyle:{color:c},
       label:{show:true,position:'left',distance:12,offset:[-moduleLabelNudge[i][1],moduleLabelNudge[i][0]],formatter:modules[i],
         fontFamily:SERIF,fontSize:57.5,color:'#000'}}))},
    {type:'custom',name:'scale',xAxisIndex:5,yAxisIndex:5,data:[],renderItem:()=>null}
  ],
  graphic:[
    {type:'line',z:20,shape:{x1:385.7,y1:825,x2:385.7,y2:949},style:{stroke:'#000',lineWidth:2.5}},
    {type:'line',z:20,shape:{x1:442,y1:950,x2:1888,y2:950},style:{stroke:'#222',lineWidth:1.6}},
    {type:'line',z:20,shape:{x1:442,y1:1093.4,x2:1888,y2:1093.4},style:{stroke:'#111',lineWidth:2.4}},
    {type:'line',z:20,shape:{x1:442,y1:1237,x2:1888,y2:1237},style:{stroke:'#111',lineWidth:3}},
    {type:'rect',z:20,shape:{x:486.5,y:1326,width:1286.5,height:922.5},style:{fill:null,stroke:'#111',lineWidth:2.5}},
    {type:'rect',z:20,shape:{x:1800.5,y:1381,width:29,height:813},style:{fill:null,stroke:'#000',lineWidth:2.5}},
    {type:'text',z:20,x:240,y:-8,style:{text:'A',font:'87px '+SERIF,fill:'#000'}},
    {type:'text',z:20,x:139,y:1252,style:{text:'B',font:'88px '+SERIF,fill:'#000'}},
    {type:'text',z:20,x:218,y:494,rotation:Math.PI/2,style:{text:'Height',font:'72px '+SERIF,fill:'#000',textAlign:'center',textVerticalAlign:'middle'}},
    {type:'text',z:20,x:428,y:1022,style:{text:'Dynamic Tree Cut',font:'57.5px '+SERIF,fill:'#000',textAlign:'right',textVerticalAlign:'middle'}},
    {type:'text',z:20,x:428,y:1157,style:{text:'Merged dynamic',font:'57.5px '+SERIF,fill:'#000',textAlign:'right',textVerticalAlign:'middle'}}
  ]
};
const chart=echarts.init(document.getElementById('c'),null,{renderer:'canvas',width:1946,height:2431});
chart.setOption(option);
</script></body></html>
